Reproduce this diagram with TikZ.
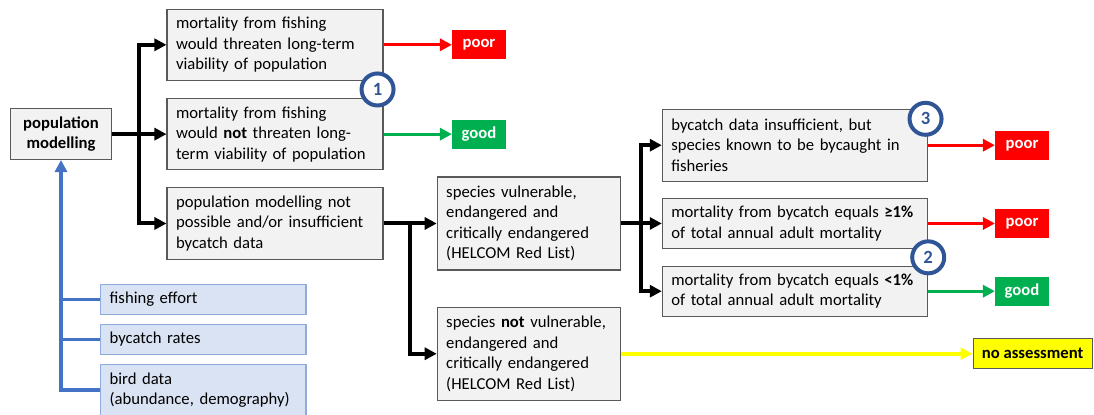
\documentclass[tikz,border=0pt]{standalone}
\usepackage{fontspec}
\setmainfont{Carlito}
\usetikzlibrary{arrows.meta,positioning,calc}

\definecolor{boxgray}{HTML}{F2F2F2}
\definecolor{boxline}{HTML}{595959}
\definecolor{bluefill}{HTML}{DAE3F3}
\definecolor{blueedge}{HTML}{8FAADC}
\definecolor{blueline}{HTML}{4472C4}
\definecolor{poorred}{HTML}{FF0000}
\definecolor{goodgreen}{HTML}{00B050}
\definecolor{noyellow}{HTML}{FFFF00}
\definecolor{circblue}{HTML}{2F5597}

\begin{document}
\begin{tikzpicture}[x=1pt,y=1pt,>={Triangle[length=9pt,width=9pt]},node distance=67pt,
		every node/.style={font=\fontsize{12.5pt}{15.4pt}\selectfont},
		box/.style={draw=boxline,fill=boxgray,line width=0.8pt,align=left,inner xsep=6.75pt,inner ysep=0pt},
		input/.style={draw=blueedge,fill=bluefill,line width=0.8pt,align=left,inner xsep=6.75pt,inner ysep=0pt,
			text width=140.5pt,minimum height=22.5pt},
		verdict/.style={minimum width=40pt,minimum height=21.75pt,inner sep=0pt,text=white,
			font=\fontsize{12.5pt}{15.4pt}\selectfont\bfseries},
		num/.style={circle,draw=circblue,line width=3pt,fill=white,minimum size=24pt,inner sep=0pt,
			text=circblue,font=\fontsize{14pt}{15pt}\selectfont\bfseries},
		flow/.style={line width=3pt},
		feed/.style={line width=2.6pt,draw=blueline},
		semithick]

	\useasboundingbox (0,0) rectangle (820.5,-310.5);

	% first decision: population model available?
	\node[box,text width=148.5pt,minimum height=53.5pt] (threat) at (206.25,-33.6)
		{mortality from fishing\\would threaten long-term\\viability of population};
	\node[box,text width=148.5pt,minimum height=53.5pt] (nothreat) [below of=threat]
		{mortality from fishing\\would \textbf{not} threaten long-\\term viability of population};
	\node[box,text width=148.5pt,minimum height=54pt] (nomodel) [below of=nothreat]
		{population modelling not\\possible and/or insufficient\\bycatch data};
	\node[box,align=center,minimum width=75.75pt,minimum height=38pt] (popmod) [left of=nothreat,node distance=160.5pt]
		{\textbf{population}\\\textbf{modelling}};

	% red list branch
	\node[box,text width=123.75pt,minimum height=69.75pt] (redlist) [right of=nomodel,node distance=190.3pt]
		{species vulnerable,\\endangered and\\critically endangered\\(HELCOM Red List)};
	\node[box,text width=123.75pt,minimum height=69.75pt] (notlist) [below of=redlist,node distance=97.7pt]
		{species \textbf{not} vulnerable,\\endangered and\\critically endangered\\(HELCOM Red List)};
	\node[box,text width=185.5pt,minimum height=37.5pt] (above) [right of=redlist,node distance=199.7pt]
		{mortality from bycatch equals \textbf{≥1\%}\\of total annual adult mortality};
	\node[box,text width=185.5pt,minimum height=53.8pt] (nodata) [above of=above,node distance=58.7pt]
		{bycatch data insufficient, but\\species known to be bycaught in\\fisheries};
	\node[box,text width=185.5pt,minimum height=37.5pt] (below) [below of=above,node distance=50.8pt]
		{mortality from bycatch equals \textbf{<1\%}\\of total annual adult mortality};

	% outcomes
	\node[verdict,fill=poorred] (poorA) [right of=threat,node distance=153pt] {poor};
	\node[verdict,fill=goodgreen] (goodA) [right of=nothreat,node distance=153pt] {good};
	\node[verdict,fill=poorred] (poorB) [right of=nodata,node distance=170.25pt] {poor};
	\node[verdict,fill=poorred] (poorC) [right of=above,node distance=170.25pt] {poor};
	\node[verdict,fill=goodgreen] (goodB) [right of=below,node distance=170.25pt] {good};
	\node[verdict,fill=noyellow,text=black,draw=boxline,line width=0.8pt,minimum width=89.25pt,minimum height=22.5pt]
		(noassess) [right of=notlist,node distance=377.9pt] {no assessment};

	% data feeding the model
	\node[input] (effort) at (152.5,-224.5) {fishing effort};
	\node[input] (rates) [below=6.75pt of effort] {bycatch rates};
	\node[input,minimum height=38pt] (birds) [below=7pt of rates] {bird data\\(abundance, demography)};

	% connectors
	\coordinate (j1) at ($(popmod.east)!0.5!(nothreat.west)$);
	\coordinate (j2) at ($(nomodel.east)!0.5!(redlist.west)$);
	\coordinate (j3) at ($(redlist.east)!0.5!(above.west)$);

	\draw[flow,->] (popmod.east) -- (nothreat.west);
	\draw[flow,->] (j1) |- (threat.west);
	\draw[flow,->] (j1) |- (nomodel.west);
	\draw[flow,->] (nomodel.east) -- (redlist.west);
	\draw[flow,->] (j2) |- (notlist.west);
	\draw[flow,->] (redlist.east) -- (above.west);
	\draw[flow,->] (j3) |- (nodata.west);
	\draw[flow,->] (j3) |- (below.west);

	\draw[line width=2.25pt,poorred,->] (threat.east) -- (poorA.west);
	\draw[line width=2.25pt,goodgreen,->] (nothreat.east) -- (goodA.west);
	\draw[line width=2.25pt,poorred,->] (nodata.east) -- (poorB.west);
	\draw[line width=2.25pt,poorred,->] (above.east) -- (poorC.west);
	\draw[line width=2.25pt,goodgreen,->] (below.east) -- (goodB.west);
	\draw[line width=3pt,noyellow,->] (notlist.east) -- (noassess.west);

	\draw[feed,->] (birds.west) -| (popmod.south);
	\draw[feed] (effort.west) -- (effort.west -| popmod.south);
	\draw[feed] (rates.west) -- (rates.west -| popmod.south);

	% numbered markers
	\node[num,xshift=-4.5pt] (n1) at ($(threat.south east)!0.5!(nothreat.north east)$) {1};
	\node[num] (n2) at ($(above.south east)!0.5!(below.north east)$) {2};
	\node[num,xshift=-2pt,yshift=-7.5pt] (n3) at (nodata.north east) {3};
\end{tikzpicture}
\end{document}
